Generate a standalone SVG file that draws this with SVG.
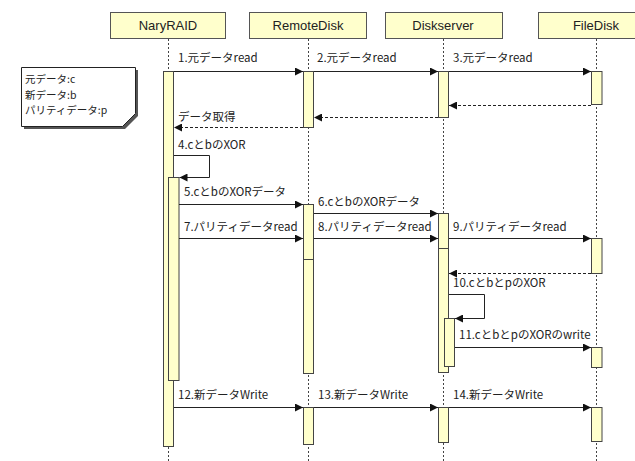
<svg xmlns="http://www.w3.org/2000/svg" width="635" height="461" viewBox="0 0 635 461">
<style>
.hdr{fill:#ffffcc;stroke:#555;stroke-width:1}
.hdrtxt{font-family:"Liberation Sans","Noto Sans CJK JP",sans-serif;font-size:13px;fill:#222;text-anchor:middle}
.life{stroke:#444;stroke-width:1;stroke-dasharray:2,2;fill:none}
.bar{fill:#ffffcc;stroke:#444;stroke-width:1}
.msg{stroke:#222;stroke-width:1;fill:none}
.ret{stroke:#222;stroke-width:1;fill:none;stroke-dasharray:3,2}
.lbl{font-family:"Noto Sans CJK JP","Liberation Sans",sans-serif;font-size:11.5px;fill:#222}
.ntxt{font-family:"Noto Sans CJK JP","Liberation Sans",sans-serif;font-size:10.5px;fill:#222}
.note{fill:#fff;stroke:#222;stroke-width:1}
</style>
<defs>
<marker id="ah" viewBox="0 0 10 10" refX="10" refY="5" markerWidth="9" markerHeight="8" markerUnits="userSpaceOnUse" orient="auto">
<path d="M0,0 L10,5 L0,10 z" fill="#111"/>
</marker>
</defs>
<rect width="635" height="461" fill="#fff"/>

<g id="note">
<polygon points="24,70 138,70 138,116 125,129 24,129" fill="#555"/>
<polygon class="note" points="21.5,67.5 135.5,67.5 135.5,113.5 122.5,126.5 21.5,126.5"/>
<text class="ntxt" x="25" y="83">元データ:c</text>
<text class="ntxt" x="25" y="98.5">新データ:b</text>
<text class="ntxt" x="25" y="114">パリティデータ:p</text>
</g>

<g id="NaryRAID">
<rect class="hdr" x="110.5" y="12.5" width="115" height="26"/>
<text class="hdrtxt" x="168" y="30">NaryRAID</text>
<line class="life" x1="168.5" y1="39" x2="168.5" y2="461"/>
<rect class="bar" x="163.5" y="71.5" width="10" height="375"/>
<rect class="bar" x="168.5" y="177.5" width="10.5" height="203"/>
</g>

<g id="RemoteDisk">
<rect class="hdr" x="249.5" y="12.5" width="117" height="26"/>
<text class="hdrtxt" x="308" y="30">RemoteDisk</text>
<line class="life" x1="308.5" y1="39" x2="308.5" y2="461"/>
<rect class="bar" x="303.5" y="71.5" width="10" height="56"/>
<rect class="bar" x="303.5" y="204.5" width="10" height="55"/>
<rect class="bar" x="303.5" y="259.5" width="10" height="114"/>
<rect class="bar" x="303.5" y="407.5" width="10" height="37"/>
</g>

<g id="Diskserver">
<rect class="hdr" x="385.5" y="12.5" width="117" height="26"/>
<text class="hdrtxt" x="443" y="30">Diskserver</text>
<line class="life" x1="443.5" y1="39" x2="443.5" y2="461"/>
<rect class="bar" x="438.5" y="71.5" width="10" height="46"/>
<rect class="bar" x="438.5" y="213.5" width="10" height="35"/>
<rect class="bar" x="438.5" y="248.5" width="10" height="124"/>
<rect class="bar" x="444.5" y="318.5" width="10" height="48"/>
<rect class="bar" x="438.5" y="407.5" width="10" height="35"/>
</g>

<g id="FileDisk">
<rect class="hdr" x="538.5" y="12.5" width="110" height="26"/>
<text class="hdrtxt" x="596" y="30">FileDisk</text>
<line class="life" x1="596.5" y1="39" x2="596.5" y2="461"/>
<rect class="bar" x="591.5" y="71.5" width="10.5" height="33"/>
<rect class="bar" x="591.5" y="238.5" width="10.5" height="35"/>
<rect class="bar" x="591.5" y="347.5" width="10.5" height="20"/>
<rect class="bar" x="591.5" y="407.5" width="10.5" height="34"/>
</g>

<g id="connectors">
<line class="msg" x1="174" y1="71.5" x2="303" y2="71.5" marker-end="url(#ah)"/>
<line class="msg" x1="314" y1="71.5" x2="438" y2="71.5" marker-end="url(#ah)"/>
<line class="msg" x1="449" y1="71.5" x2="591" y2="71.5" marker-end="url(#ah)"/>
<line class="ret" x1="591" y1="105.5" x2="449" y2="105.5" marker-end="url(#ah)"/>
<line class="ret" x1="438" y1="117.5" x2="314" y2="117.5" marker-end="url(#ah)"/>
<line class="ret" x1="303" y1="127.5" x2="174" y2="127.5" marker-end="url(#ah)"/>
<polyline class="msg" points="174,155.5 209.5,155.5 209.5,177.5 179.5,177.5" marker-end="url(#ah)"/>
<line class="msg" x1="179" y1="204.5" x2="303" y2="204.5" marker-end="url(#ah)"/>
<line class="msg" x1="314" y1="213.5" x2="438" y2="213.5" marker-end="url(#ah)"/>
<line class="msg" x1="179" y1="238.5" x2="303" y2="238.5" marker-end="url(#ah)"/>
<line class="msg" x1="314" y1="238.5" x2="438" y2="238.5" marker-end="url(#ah)"/>
<line class="msg" x1="449" y1="238.5" x2="591" y2="238.5" marker-end="url(#ah)"/>
<line class="ret" x1="591" y1="273.5" x2="449" y2="273.5" marker-end="url(#ah)"/>
<polyline class="msg" points="449,294.5 484.5,294.5 484.5,318.5 455,318.5" marker-end="url(#ah)"/>
<line class="msg" x1="455" y1="347.5" x2="591" y2="347.5" marker-end="url(#ah)"/>
<line class="msg" x1="174" y1="407.5" x2="303" y2="407.5" marker-end="url(#ah)"/>
<line class="msg" x1="314" y1="407.5" x2="438" y2="407.5" marker-end="url(#ah)"/>
<line class="msg" x1="449" y1="407.5" x2="591" y2="407.5" marker-end="url(#ah)"/>

<text class="lbl" x="178" y="62">1.元データread</text>
<text class="lbl" x="317" y="62">2.元データread</text>
<text class="lbl" x="453" y="62">3.元データread</text>
<text class="lbl" x="178" y="121">データ取得</text>
<text class="lbl" x="178" y="149">4.cとbのXOR</text>
<text class="lbl" x="184" y="196">5.cとbのXORデータ</text>
<text class="lbl" x="318" y="206">6.cとbのXORデータ</text>
<text class="lbl" x="184" y="231">7.パリティデータread</text>
<text class="lbl" x="318" y="231">8.パリティデータread</text>
<text class="lbl" x="453" y="231">9.パリティデータread</text>
<text class="lbl" x="453" y="287">10.cとbとpのXOR</text>
<text class="lbl" x="459" y="339">11.cとbとpのXORのwrite</text>
<text class="lbl" x="178" y="399">12.新データWrite</text>
<text class="lbl" x="318" y="399">13.新データWrite</text>
<text class="lbl" x="453" y="399">14.新データWrite</text>
</g>
</svg>
